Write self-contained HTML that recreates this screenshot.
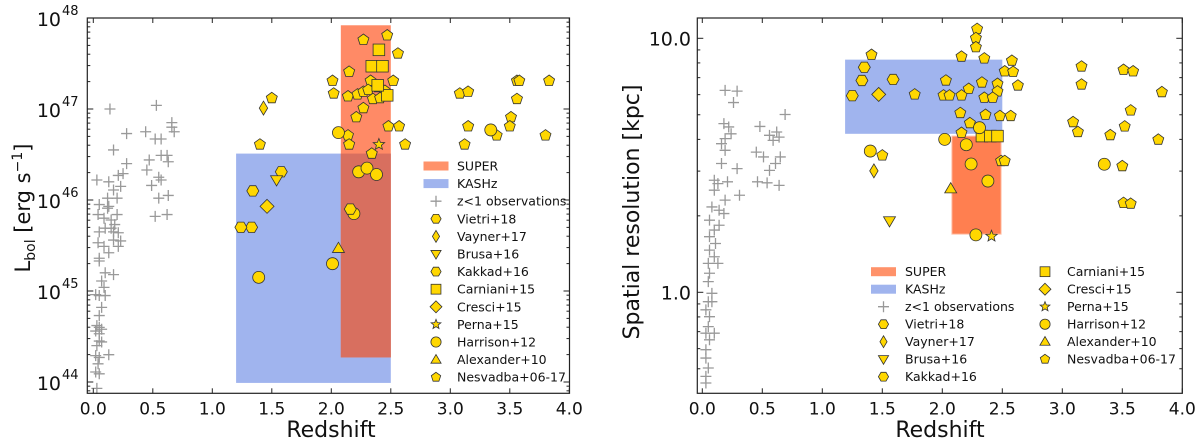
<!DOCTYPE html>
<html><head><meta charset="utf-8"><style>
html,body{margin:0;padding:0;background:#fff;}
svg{display:block;font-family:"DejaVu Sans","Liberation Sans",sans-serif;}
</style></head><body>
<svg id="fig" width="1200" height="444" viewBox="0 0 1200 444"></svg>
<script>
// ---------- Left panel data (Lbol, log10) ----------
const nesL_z=[1.50,1.40,2.27,2.47,2.56,2.15,2.01,2.02,2.14,2.33,2.52,2.22,2.27,2.31,2.39,2.45,2.35,2.41,2.27,2.21,2.48,2.57,2.14,2.15,2.62,2.34,3.08,3.15,3.56,3.58,3.83,3.56,3.51,3.50,3.15,3.39,3.12,3.80];
const nesL_y=[47.12,46.61,47.76,47.81,47.61,47.41,47.31,47.17,47.14,47.31,47.31,47.16,47.19,47.21,47.24,47.20,47.11,47.12,47.01,46.91,46.81,46.81,46.71,46.61,46.61,46.51,47.17,47.19,47.31,47.31,47.31,47.11,46.91,46.81,46.81,46.71,46.61,46.71];
const carL_z=[2.40,2.34,2.43,2.47,2.39];
const carL_y=[47.65,47.47,47.47,47.15,47.26];
const harL_z=[2.06,2.23,2.30,2.38,2.19,2.01,1.39,3.34];
const harL_y=[46.74,46.31,46.35,46.28,45.85,45.30,45.15,46.77];
const vieL_z=[2.16,1.33,1.24,1.34,1.58];
const vieL_y=[45.90,45.70,45.70,46.10,46.31];
const vayL_z=[1.43], vayL_y=[47.01];
const bruL_z=[1.54], bruL_y=[46.22];
const creL_z=[1.46], creL_y=[45.93];
const aleL_z=[2.06], aleL_y=[45.47];
const perL_z=[2.40], perL_y=[46.61];
const lowL_z=[0.14,0.53,0.28,0.44,0.52,0.57,0.66,0.66,0.68,0.17,0.28,0.47,0.57,0.62,0.63,0.45,0.55,0.57,0.49,0.63,0.55,0.52,0.62,0.03,0.13,0.21,0.25,0.17,0.20,0.05,0.12,0.13,0.04,0.09,0.15,0.20,0.10,0.15,0.17,0.21,0.05,0.04,0.09,0.13,0.21,0.23,0.05,0.05,0.17,0.10,0.07,0.09,0.02,0.05,0.10,0.07,0.05,0.03,0.05,0.02,0.07,0.05,0.07,0.03,0.02,0.05,0.13,0.04,0.02,0.05,0.03,0.05,0.17,0.18,0.12,0.23];
const lowL_y=[47.0,47.04,46.73,46.75,46.67,46.67,46.85,46.80,46.75,46.55,46.4,46.44,46.49,46.49,46.42,46.33,46.25,46.22,46.16,46.05,46.02,45.82,45.84,46.22,46.2,46.27,46.29,46.11,46.02,45.95,45.91,45.93,45.84,45.8,45.78,45.84,45.69,45.69,45.65,45.64,45.65,45.53,45.49,45.42,45.49,45.55,45.36,45.33,45.18,45.2,45.11,45.04,44.96,44.95,44.95,44.82,44.73,44.62,44.6,44.56,44.58,44.45,44.44,44.4,44.29,44.27,44.3,44.2,44.11,44.09,43.93,44.53,45.56,45.73,46.02,46.15];
const superL=[2.08,2.50,44.27,47.92];
const kashzL=[1.20,2.50,43.99,46.51];
const ticksL_x=[0.0,0.5,1.0,1.5,2.0,2.5,3.0,3.5,4.0];
const ticksL_y=[44,45,46,47,48];

// ---------- Right panel data (spatial res, log10 kpc) ----------
const nesR_z=[2.29,2.28,2.28,1.41,2.16,2.35,2.58,2.52,2.59,3.16,3.51,3.59,2.03,2.33,2.46,2.63,3.16,3.83,2.22,2.46,1.77,2.01,2.06,2.16,2.35,2.42,2.15,2.36,2.48,2.57,3.57,2.23,3.09,3.52,2.16,3.13,3.40,3.80,1.50,2.49,2.52,3.50,3.51,3.57];
const nesR_y=[1.037,1.001,0.965,0.935,0.928,0.921,0.912,0.870,0.868,0.889,0.876,0.870,0.834,0.826,0.821,0.814,0.818,0.788,0.801,0.791,0.779,0.775,0.775,0.775,0.766,0.766,0.706,0.699,0.694,0.694,0.716,0.666,0.670,0.653,0.628,0.631,0.619,0.601,0.539,0.517,0.517,0.497,0.352,0.349];
const carR_z=[2.33,2.40,2.46], carR_y=[0.615,0.615,0.615];
const harR_z=[2.31,2.02,2.20,1.40,2.24,2.38,3.35,2.28];
const harR_y=[0.648,0.602,0.581,0.556,0.505,0.438,0.504,0.226];
const vieR_z=[1.35,1.33,1.25,1.59], vieR_y=[0.886,0.834,0.774,0.838];
const vayR_z=[1.43], vayR_y=[0.478];
const bruR_z=[1.56], bruR_y=[0.281];
const creR_z=[1.47], creR_y=[0.779];
const aleR_z=[2.07], aleR_y=[0.408];
const perR_z=[2.41], perR_y=[0.221];
const lowR_z=[0.19,0.29,0.26,0.69,0.48,0.62,0.64,0.56,0.59,0.45,0.51,0.65,0.61,0.56,0.46,0.54,0.64,0.18,0.22,0.24,0.19,0.16,0.19,0.16,0.29,0.10,0.13,0.21,0.10,0.31,0.19,0.08,0.14,0.18,0.06,0.14,0.10,0.06,0.11,0.06,0.10,0.05,0.13,0.06,0.05,0.08,0.05,0.03,0.06,0.05,0.03,0.06,0.03,0.03,0.05,0.03,0.03,0.10,0.08];
const lowR_y=[0.795,0.792,0.747,0.700,0.653,0.631,0.611,0.618,0.598,0.552,0.533,0.533,0.507,0.480,0.435,0.431,0.421,0.664,0.651,0.624,0.605,0.585,0.559,0.507,0.487,0.441,0.428,0.435,0.402,0.382,0.363,0.336,0.323,0.310,0.284,0.264,0.245,0.219,0.192,0.166,0.140,0.114,0.114,0.075,0.042,-0.004,-0.037,-0.069,-0.096,-0.135,-0.161,-0.187,-0.226,-0.259,-0.298,-0.331,-0.357,-0.161,-0.037];
const superR=[2.08,2.49,0.229,0.615];
const kashzR=[1.19,2.50,0.624,0.916];
const ticksR_x=[0.0,0.5,1.0,1.5,2.0,2.5,3.0,3.5,4.0];

const NS='http://www.w3.org/2000/svg';
const svg=document.getElementById('fig');
function mk(tag,attrs,parent){const e=document.createElementNS(NS,tag);for(const k in attrs)e.setAttribute(k,attrs[k]);(parent||svg).appendChild(e);return e;}

const L={x0:87.3,x1:569.5,y0:18,y1:393.3};
function lx(z){return 93.3+z*119;}
function ly(v){return 18+(48-v)*91;}
const R={x0:697.3,x1:1182.3,y0:18,y1:393.3};
function rx(z){return 702.3+z*120;}
function ry(v){return 38.3+(1-v)*254;}

const FILL='#ffd700',STK='#333';
function poly(cx,cy,r,n,rot){let p=[];for(let i=0;i<n;i++){const a=rot+i*2*Math.PI/n;p.push((cx+r*Math.cos(a)).toFixed(1)+','+(cy+r*Math.sin(a)).toFixed(1));}return p.join(' ');}
function marker(g,shape,cx,cy,s){
  s=s||1;let e;
  const a={fill:FILL,stroke:STK,'stroke-width':0.8};
  if(shape==='pent'){a.points=poly(cx,cy,5.8*s,5,-Math.PI/2);e=mk('polygon',a,g);}
  else if(shape==='hex'){a.points=poly(cx,cy,6*s,6,0);e=mk('polygon',a,g);}
  else if(shape==='circ'){a.cx=cx;a.cy=cy;a.r=6*s;e=mk('circle',a,g);}
  else if(shape==='sq'){a.x=cx-5.8*s;a.y=cy-5.8*s;a.width=11.6*s;a.height=11.6*s;e=mk('rect',a,g);}
  else if(shape==='dia'){const r=7*s;a.points=`${cx},${cy-r} ${cx+r},${cy} ${cx},${cy+r} ${cx-r},${cy}`;e=mk('polygon',a,g);}
  else if(shape==='tdia'){const r=7*s;a.points=`${cx},${cy-r} ${cx+4.2*s},${cy} ${cx},${cy+r} ${cx-4.2*s},${cy}`;e=mk('polygon',a,g);}
  else if(shape==='tdn'){const r=6*s;a.points=`${cx-r},${cy-r*0.7} ${cx+r},${cy-r*0.7} ${cx},${cy+r}`;e=mk('polygon',a,g);}
  else if(shape==='tup'){const r=6*s;a.points=`${cx-r},${cy+r*0.7} ${cx+r},${cy+r*0.7} ${cx},${cy-r}`;e=mk('polygon',a,g);}
  else if(shape==='star'){let p=[];for(let i=0;i<10;i++){const rr=i%2?2.6*s:6*s;const ang=-Math.PI/2+i*Math.PI/5;p.push((cx+rr*Math.cos(ang)).toFixed(1)+','+(cy+rr*Math.sin(ang)).toFixed(1));}a.points=p.join(' ');e=mk('polygon',a,g);}
  else if(shape==='cross'){e=mk('path',{d:`M${cx-5.5},${cy}H${cx+5.5}M${cx},${cy-5.5}V${cy+5.5}`,stroke:'#999','stroke-width':1.3,fill:'none'},g);}
  return e;
}
function series(g,name,shape,zs,vs,fx,fy){
  const sg=mk('g',{},g);
  
  
  for(let i=0;i<zs.length;i++){const m=marker(sg,shape,fx(zs[i]),fy(vs[i]));
    
    }
}
function frame(g,B,xt,fx,ymaj,ymin,fy){
  mk('rect',{x:B.x0,y:B.y0,width:B.x1-B.x0,height:B.y1-B.y0,fill:'none',stroke:'#222','stroke-width':1.2},g);
  const tk=mk('g',{stroke:'#222','stroke-width':1},g);
  xt.forEach(t=>{const x=fx(t);mk('line',{x1:x,x2:x,y1:B.y1,y2:B.y1-5},tk);mk('line',{x1:x,x2:x,y1:B.y0,y2:B.y0+5},tk);
    const tx=mk('text',{x:x,y:B.y1+21,'font-size':17,'text-anchor':'middle',fill:'#111',stroke:'none'},g);tx.textContent=t.toFixed(1);
    
    });
  ymaj.forEach(v=>{const y=fy(v);mk('line',{x1:B.x0,x2:B.x0+6,y1:y,y2:y},tk);mk('line',{x1:B.x1,x2:B.x1-6,y1:y,y2:y},tk);});
  ymin.forEach(v=>{const y=fy(v);if(y<B.y0||y>B.y1)return;mk('line',{x1:B.x0,x2:B.x0+3,y1:y,y2:y},tk);mk('line',{x1:B.x1,x2:B.x1-3,y1:y,y2:y},tk);});
}
function legRow(g,x,y,kind,label,tx){
  const rg=mk('g',{},g);
  
  
  if(kind==='super')mk('rect',{x:x-12.5,y:y-4.5,width:25,height:9,fill:'#ff7f50',opacity:0.85},rg);
  else if(kind==='kashz')mk('rect',{x:x-12.5,y:y-4.5,width:25,height:9,fill:'#a0b4ee'},rg);
  else marker(rg,kind,x,y,0.85);
  const t=mk('text',{x:tx,y:y+4.5,'font-size':12.5,fill:'#111'},rg);t.textContent=label;
}

// ---- Left panel ----
const gl=mk('g',{});


const kb=mk('rect',{x:lx(kashzL[0]),y:ly(kashzL[3]),width:lx(kashzL[1])-lx(kashzL[0]),height:ly(kashzL[2])-ly(kashzL[3]),fill:'#a0b4ee'},gl);


const sb=mk('rect',{x:lx(superL[0]),y:ly(superL[3]),width:lx(superL[1])-lx(superL[0]),height:ly(superL[2])-ly(superL[3]),fill:'#ff8a66'},gl);


const ovTop=Math.max(ly(superL[3]),ly(kashzL[3])),ovBot=Math.min(ly(superL[2]),ly(kashzL[2]));
const ovL=Math.max(lx(superL[0]),lx(kashzL[0])),ovR=Math.min(lx(superL[1]),lx(kashzL[1]));
const ov=mk('rect',{x:ovL,y:ovTop,width:ovR-ovL,height:ovBot-ovTop,fill:'#d86f5f'},gl);


series(gl,'z-lt-1-observations','cross',lowL_z,lowL_y,lx,ly);
series(gl,'nesvadba','pent',nesL_z,nesL_y,lx,ly);
series(gl,'carniani','sq',carL_z,carL_y,lx,ly);
series(gl,'harrison','circ',harL_z,harL_y,lx,ly);
series(gl,'vietri','hex',vieL_z,vieL_y,lx,ly);
series(gl,'vayner','tdia',vayL_z,vayL_y,lx,ly);
series(gl,'brusa','tdn',bruL_z,bruL_y,lx,ly);
series(gl,'cresci','dia',creL_z,creL_y,lx,ly);
series(gl,'alexander','tup',aleL_z,aleL_y,lx,ly);
series(gl,'perna','star',perL_z,perL_y,lx,ly);
let minL=[];for(let d=43;d<48;d++)for(let k=2;k<10;k++)minL.push(d+Math.log10(k));
frame(gl,L,ticksL_x,lx,ticksL_y,minL,ly);
ticksL_y.forEach(v=>{const t=mk('text',{x:61,y:ly(v)+8,'font-size':19,'text-anchor':'end',fill:'#111'},gl);t.textContent='10';
  
  
  const s=mk('text',{x:62,y:ly(v)-3,'font-size':13,fill:'#111'},gl);s.textContent=String(v);});
const ylt=mk('text',{transform:'translate(30,208) rotate(-90)','font-size':21,'text-anchor':'middle',fill:'#111'},gl);


ylt.innerHTML='L<tspan font-size="14" dy="5">bol</tspan><tspan dy="-5"> [erg s</tspan><tspan font-size="14" dy="-8">−1</tspan><tspan dy="8">]</tspan>';
const xlt=mk('text',{x:331,y:437,'font-size':22,'text-anchor':'middle',fill:'#111'},gl);xlt.textContent='Redshift';


const lgL=mk('g',{},gl);


const legItems=[['super','SUPER'],['kashz','KASHz'],['cross','z<1 observations'],['hex','Vietri+18'],['tdia','Vayner+17'],['tdn','Brusa+16'],['hex','Kakkad+16'],['sq','Carniani+15'],['dia','Cresci+15'],['star','Perna+15'],['circ','Harrison+12'],['tup','Alexander+10'],['pent','Nesvadba+06-17']];
legItems.forEach((it,i)=>legRow(lgL,436,166+i*17.6,it[0],it[1],457));

// ---- Right panel ----
const gr=mk('g',{});


const kb2=mk('rect',{x:rx(kashzR[0]),y:ry(kashzR[3]),width:rx(kashzR[1])-rx(kashzR[0]),height:ry(kashzR[2])-ry(kashzR[3]),fill:'#a0b4ee'},gr);


const sb2=mk('rect',{x:rx(superR[0]),y:ry(superR[3]),width:rx(superR[1])-rx(superR[0]),height:ry(superR[2])-ry(superR[3]),fill:'#ff7f50',stroke:'#ffc0a8','stroke-width':1},gr);


series(gr,'z-lt-1-observations','cross',lowR_z,lowR_y,rx,ry);
series(gr,'nesvadba','pent',nesR_z,nesR_y,rx,ry);
series(gr,'carniani','sq',carR_z,carR_y,rx,ry);
series(gr,'harrison','circ',harR_z,harR_y,rx,ry);
series(gr,'vietri','hex',vieR_z,vieR_y,rx,ry);
series(gr,'vayner','tdia',vayR_z,vayR_y,rx,ry);
series(gr,'brusa','tdn',bruR_z,bruR_y,rx,ry);
series(gr,'cresci','dia',creR_z,creR_y,rx,ry);
series(gr,'alexander','tup',aleR_z,aleR_y,rx,ry);
series(gr,'perna','star',perR_z,perR_y,rx,ry);
let minR=[];for(let d=-1;d<2;d++)for(let k=2;k<10;k++)minR.push(d+Math.log10(k));
frame(gr,R,ticksR_x,rx,[0,1],minR,ry);
[[1,'10.0'],[0,'1.0']].forEach(p=>{const t=mk('text',{x:691,y:ry(p[0])+7,'font-size':19,'text-anchor':'end',fill:'#111'},gr);t.textContent=p[1];
  
  });
const ylt2=mk('text',{transform:'translate(639,212) rotate(-90)','font-size':22,'text-anchor':'middle',fill:'#111'},gr);ylt2.textContent='Spatial resolution [kpc]';


const xlt2=mk('text',{x:940,y:437,'font-size':22,'text-anchor':'middle',fill:'#111'},gr);xlt2.textContent='Redshift';


const lgR=mk('g',{},gr);


legItems.slice(0,7).forEach((it,i)=>legRow(lgR,883.5,271.7+i*17.5,it[0],it[1],905));
legItems.slice(7).forEach((it,i)=>legRow(lgR,1045,271.7+i*17.5,it[0],it[1],1067));
</script>
</body></html>
